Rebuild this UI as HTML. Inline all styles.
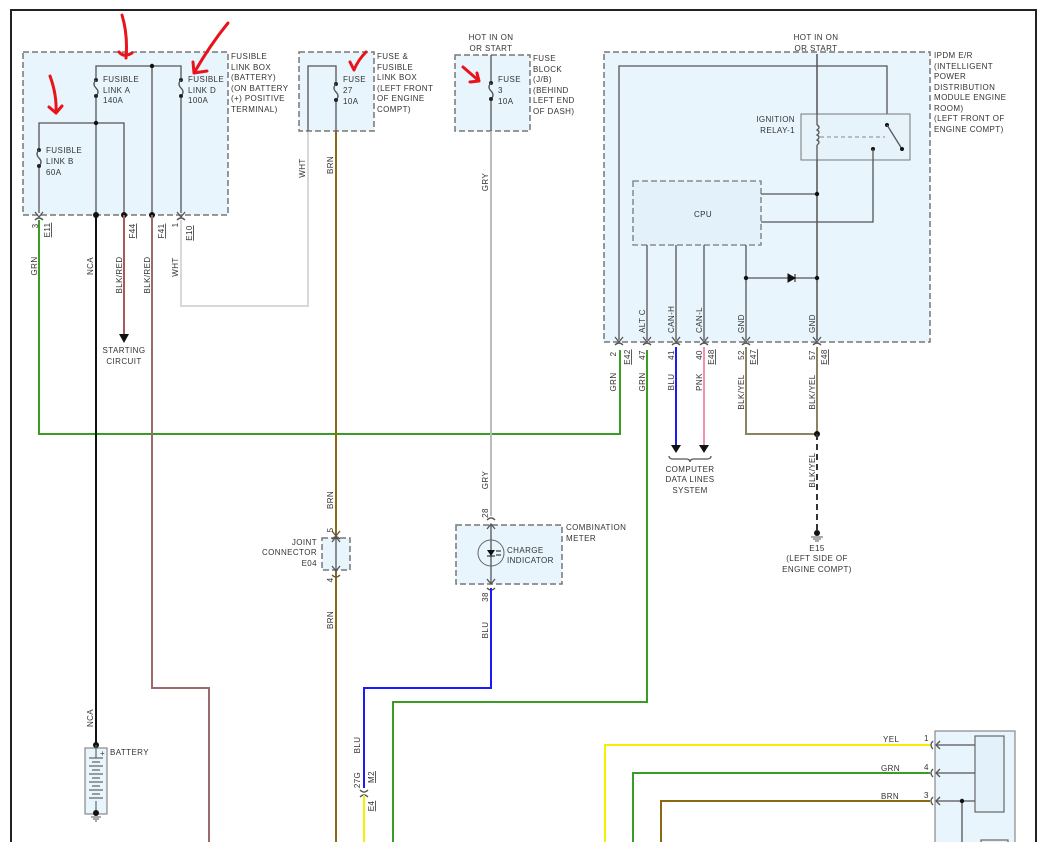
<!DOCTYPE html>
<html><head><meta charset="utf-8"><style>
html,body{margin:0;padding:0;background:#fff}
svg{display:block}
text{font-family:"Liberation Sans",sans-serif;font-size:8px;fill:#333;letter-spacing:0.4px}
.box{fill:#e8f5fc;stroke:#777;stroke-width:1.5;stroke-dasharray:6,3}
.ln{stroke:#555;stroke-width:1.3;fill:none}
.w{fill:none;stroke-width:2}
.u{text-decoration:underline}
</style></head><body>
<svg width="1049" height="842" viewBox="0 0 1049 842" xmlns="http://www.w3.org/2000/svg">
<defs>
<g id="pin"><path d="M-4,-5 L0,0 L4,-5" class="ln"/><path d="M-4,3 Q0,-1 4,3" class="ln"/></g>
<g id="fuse"><circle cx="0" cy="0" r="2" fill="#222"/><path d="M0,0 q-4,4 0,8 q4,4 0,8" class="ln"/><circle cx="0" cy="16" r="2" fill="#222"/></g>
</defs>
<path d="M11,842 V10 H1036 V842" fill="none" stroke="#222" stroke-width="2"/>

<rect class="box" x="23" y="52" width="205" height="163"/>
<path class="ln" d="M96,215 V66 H181 V213 M152,66 V215 M39,213 V123 H124 V215"/>
<rect x="93" y="78" width="6" height="20" fill="#e8f5fc"/><rect x="178" y="78" width="6" height="20" fill="#e8f5fc"/><rect x="36" y="148" width="6" height="20" fill="#e8f5fc"/>
<use href="#fuse" x="96" y="80"/><use href="#fuse" x="181" y="80"/><use href="#fuse" x="39" y="150"/>
<circle cx="152" cy="66" r="2.2" fill="#111"/><circle cx="96" cy="123" r="2.2" fill="#111"/>
<circle cx="96" cy="215" r="3" fill="#111"/><circle cx="124" cy="215" r="3" fill="#111"/><circle cx="152" cy="215" r="3" fill="#111"/>
<use href="#pin" x="39" y="217"/><use href="#pin" x="181" y="217"/>
<text x="103" y="82">FUSIBLE</text><text x="103" y="93">LINK A</text><text x="103" y="103">140A</text>
<text x="188" y="82">FUSIBLE</text><text x="188" y="93">LINK D</text><text x="188" y="103">100A</text>
<text x="46" y="153">FUSIBLE</text><text x="46" y="164">LINK B</text><text x="46" y="175">60A</text>
<text x="231" y="59">FUSIBLE</text><text x="231" y="70">LINK BOX</text><text x="231" y="80">(BATTERY)</text><text x="231" y="91">(ON BATTERY</text><text x="231" y="101">(+) POSITIVE</text><text x="231" y="112">TERMINAL)</text>

<path class="w" stroke="#3a9d23" d="M39,220 V434 H620 V350"/>
<path class="w" stroke="#111" d="M96,215 V745"/>
<path class="w" stroke="#a85a5a" d="M124,215 V335"/>
<path d="M119,334 L129,334 L124,343 Z" fill="#111"/>
<text x="124" y="353" text-anchor="middle">STARTING</text><text x="124" y="364" text-anchor="middle">CIRCUIT</text>
<path class="w" stroke="#9a6a6a" d="M152,215 V688 H209 V842"/>
<path class="w" stroke="#d8d8d8" d="M181,220 V306 H308 V131"/>
<g text-anchor="middle">
<text transform="translate(38,226) rotate(-90)">3</text>
<text class="u" transform="translate(50,230) rotate(-90)">E11</text>
<text transform="translate(37,266) rotate(-90)">GRN</text>
<text transform="translate(93,266) rotate(-90)">NCA</text>
<text class="u" transform="translate(135,231) rotate(-90)">F44</text>
<text transform="translate(122,275) rotate(-90)">BLK/RED</text>
<text class="u" transform="translate(164,231) rotate(-90)">F41</text>
<text transform="translate(150,275) rotate(-90)">BLK/RED</text>
<text transform="translate(178,225) rotate(-90)">1</text>
<text class="u" transform="translate(192,233) rotate(-90)">E10</text>
<text transform="translate(178,267) rotate(-90)">WHT</text>
<text transform="translate(305,168) rotate(-90)">WHT</text>
<text transform="translate(333,165) rotate(-90)">BRN</text>
</g>

<rect class="box" x="299" y="52" width="75" height="79"/>
<path class="ln" d="M308,131 V66 H336 V131"/>
<rect x="333" y="82" width="6" height="20" fill="#e8f5fc"/>
<use href="#fuse" x="336" y="84"/>
<text x="343" y="82">FUSE</text><text x="343" y="93">27</text><text x="343" y="104">10A</text>
<text x="377" y="59">FUSE &amp;</text><text x="377" y="70">FUSIBLE</text><text x="377" y="80">LINK BOX</text><text x="377" y="91">(LEFT FRONT</text><text x="377" y="101">OF ENGINE</text><text x="377" y="112">COMPT)</text>
<path class="w" stroke="#8b6914" d="M336,131 V842"/>
<rect class="box" x="322" y="538" width="28" height="32"/>
<path class="ln" d="M336,538 V570 M332,542 L336,537 L340,542 M332,566 L336,571 L340,566"/>
<use href="#pin" x="336" y="536"/><path class="ln" d="M332,575 Q336,579 340,575"/>
<g text-anchor="middle">
<text transform="translate(333,500) rotate(-90)">BRN</text>
<text transform="translate(333,530) rotate(-90)">5</text>
<text transform="translate(333,580) rotate(-90)">4</text>
<text transform="translate(333,620) rotate(-90)">BRN</text>
</g>
<text x="317" y="545" text-anchor="end">JOINT</text><text x="317" y="555" text-anchor="end">CONNECTOR</text><text x="317" y="566" text-anchor="end">E04</text>

<text x="491" y="40" text-anchor="middle">HOT IN ON</text><text x="491" y="51" text-anchor="middle">OR START</text>
<rect class="box" x="455" y="55" width="75" height="76"/>
<path class="ln" d="M491,55 V131"/>
<rect x="488" y="81" width="6" height="20" fill="#e8f5fc"/>
<use href="#fuse" x="491" y="83"/>
<text x="498" y="82">FUSE</text><text x="498" y="93">3</text><text x="498" y="104">10A</text>
<text x="533" y="61">FUSE</text><text x="533" y="72">BLOCK</text><text x="533" y="82">(J/B)</text><text x="533" y="93">(BEHIND</text><text x="533" y="103">LEFT END</text><text x="533" y="114">OF DASH)</text>
<path class="w" stroke="#bbb" d="M491,131 V516"/>
<g text-anchor="middle"><text transform="translate(488,182) rotate(-90)">GRY</text><text transform="translate(488,480) rotate(-90)">GRY</text>
<text transform="translate(488,513) rotate(-90)">28</text><text transform="translate(488,597) rotate(-90)">38</text>
<text transform="translate(488,630) rotate(-90)">BLU</text>
<text transform="translate(360,745) rotate(-90)">BLU</text>
<text transform="translate(360,780) rotate(-90)">27G</text>
<text class="u" transform="translate(374,777) rotate(-90)">M2</text>
<text class="u" transform="translate(374,806) rotate(-90)">E4</text></g>
<rect class="box" x="456" y="525" width="106" height="59"/>
<path class="ln" d="M491,525 V583 M487,529 L491,524 L495,529 M487,579 L491,584 L495,579"/>
<path class="ln" d="M487,520 Q491,516 495,520 M487,588 Q491,592 495,588"/>
<circle cx="491" cy="553" r="13" fill="none" stroke="#666" stroke-width="1"/>
<path d="M487,550 L495,550 L491,556 Z" fill="#111"/><path d="M487,556 H495 M496,551 h5 M496,555 h5" stroke="#111" stroke-width="1"/>
<text x="507" y="553">CHARGE</text><text x="507" y="563">INDICATOR</text>
<text x="566" y="530">COMBINATION</text><text x="566" y="541">METER</text>
<path class="w" stroke="#1a1aff" d="M491,588 V688 H364 V788"/>
<path class="ln" d="M360,790 Q364,794 368,790 M360,797 Q364,793 368,797"/>
<path class="w" stroke="#f5f000" d="M364,795 V842"/>
<path class="w" stroke="#3a9d23" d="M647,350 V702 H393 V842"/>

<text x="816" y="40" text-anchor="middle">HOT IN ON</text><text x="816" y="51" text-anchor="middle">OR START</text>
<rect class="box" x="604" y="52" width="326" height="290"/>
<path class="ln" d="M817,54 V340 M619,340 V66 H887 V125"/>
<rect x="801" y="114" width="109" height="46" fill="#e6f3fa" stroke="#777" stroke-width="1"/>
<path class="ln" d="M817,54 V125"/>
<path class="ln" d="M817,125 q4,2 0,5 q4,2 0,5 q4,2 0,5 q4,2 0,5 M817,145 V340"/>
<path d="M820,137 H885" stroke="#888" stroke-width="1" stroke-dasharray="4,3"/>
<circle cx="887" cy="125" r="2" fill="#111"/><path d="M887,125 L902,149" class="ln"/><circle cx="902" cy="149" r="2" fill="#111"/>
<circle cx="873" cy="149" r="2" fill="#111"/>
<path class="ln" d="M873,149 V222 H761 M761,194 H817"/>
<circle cx="817" cy="194" r="2.2" fill="#111"/>
<rect x="633" y="181" width="128" height="64" fill="#e3f2fa" stroke="#777" stroke-width="1.3" stroke-dasharray="6,3"/>
<text x="703" y="217" text-anchor="middle">CPU</text>
<path class="ln" d="M647,245 V340 M676,245 V340 M704,245 V340 M746,245 V340 M746,278 H817"/>
<circle cx="746" cy="278" r="2.2" fill="#111"/><circle cx="817" cy="278" r="2.2" fill="#111"/>
<path d="M788,274 L795,278 L788,282 Z M795,274 V282" fill="#111" stroke="#111" stroke-width="1"/>
<text x="795" y="122" text-anchor="end">IGNITION</text><text x="795" y="133" text-anchor="end">RELAY-1</text>
<text x="934" y="58">IPDM E/R</text><text x="934" y="69">(INTELLIGENT</text><text x="934" y="79">POWER</text><text x="934" y="90">DISTRIBUTION</text><text x="934" y="100">MODULE ENGINE</text><text x="934" y="111">ROOM)</text><text x="934" y="121">(LEFT FRONT OF</text><text x="934" y="132">ENGINE COMPT)</text>
<g text-anchor="start">
<text transform="translate(645,333) rotate(-90)">ALT C</text>
<text transform="translate(674,333) rotate(-90)">CAN-H</text>
<text transform="translate(702,333) rotate(-90)">CAN-L</text>
<text transform="translate(744,333) rotate(-90)">GND</text>
<text transform="translate(815,333) rotate(-90)">GND</text>
</g>
<use href="#pin" x="619" y="342"/><use href="#pin" x="647" y="342"/><use href="#pin" x="676" y="342"/><use href="#pin" x="704" y="342"/><use href="#pin" x="746" y="342"/><use href="#pin" x="817" y="342"/>
<g text-anchor="middle">
<text transform="translate(616,354) rotate(-90)">2</text><text class="u" transform="translate(630,357) rotate(-90)">E42</text>
<text transform="translate(645,355) rotate(-90)">47</text>
<text transform="translate(674,355) rotate(-90)">41</text>
<text transform="translate(702,355) rotate(-90)">40</text><text class="u" transform="translate(714,357) rotate(-90)">E48</text>
<text transform="translate(744,355) rotate(-90)">52</text><text class="u" transform="translate(756,357) rotate(-90)">E47</text>
<text transform="translate(815,355) rotate(-90)">57</text><text class="u" transform="translate(827,357) rotate(-90)">E48</text>
<text transform="translate(616,382) rotate(-90)">GRN</text>
<text transform="translate(645,382) rotate(-90)">GRN</text>
<text transform="translate(674,382) rotate(-90)">BLU</text>
<text transform="translate(702,382) rotate(-90)">PNK</text>
<text transform="translate(744,392) rotate(-90)">BLK/YEL</text>
<text transform="translate(815,392) rotate(-90)">BLK/YEL</text>
<text transform="translate(815,470) rotate(-90)">BLK/YEL</text>
</g>
<path class="w" stroke="#1a1aff" d="M676,347 V445"/><path d="M671,445 H681 L676,453 Z" fill="#111"/>
<path class="w" stroke="#f590a8" d="M704,347 V445"/><path d="M699,445 H709 L704,453 Z" fill="#111"/>
<path class="ln" d="M669,456 q0,3 4,3 H686 q4,0 4,3 q0,-3 4,-3 H707 q4,0 4,-3" stroke-width="1"/>
<text x="690" y="472" text-anchor="middle">COMPUTER</text><text x="690" y="482" text-anchor="middle">DATA LINES</text><text x="690" y="493" text-anchor="middle">SYSTEM</text>
<path class="w" stroke="#8a8460" d="M746,347 V434 H817 M817,347 V434"/>
<circle cx="817" cy="434" r="3" fill="#111"/>
<path d="M817,434 V533" stroke="#333" stroke-width="2" stroke-dasharray="6,4"/>
<circle cx="817" cy="533" r="3" fill="#111"/><path d="M811,537 H823 M813,539 H821 M815,541 H819" stroke="#555" stroke-width="1"/>
<text x="817" y="551" text-anchor="middle">E15</text><text x="817" y="561" text-anchor="middle">(LEFT SIDE OF</text><text x="817" y="572" text-anchor="middle">ENGINE COMPT)</text>

<rect x="935" y="731" width="80" height="115" fill="#e8f5fc" stroke="#888" stroke-width="1.2"/>
<rect x="975" y="736" width="29" height="76" fill="#e3f2fa" stroke="#666" stroke-width="1.2"/>
<rect x="981" y="840" width="27" height="10" fill="#e3f2fa" stroke="#666" stroke-width="1.2"/>
<path class="ln" d="M937,745 H975 M937,773 H975 M937,801 H975 M962,801 V842"/>
<circle cx="962" cy="801" r="2.2" fill="#111"/>
<path class="ln" d="M940,741 L936,745 L940,749 M940,769 L936,773 L940,777 M940,797 L936,801 L940,805"/>
<path class="ln" d="M933,741 Q929,745 933,749 M933,769 Q929,773 933,777 M933,797 Q929,801 933,805"/>
<path class="w" stroke="#f5f000" d="M605,842 V745 H930"/>
<path class="w" stroke="#3a9d23" d="M633,842 V773 H930"/>
<path class="w" stroke="#8b6914" d="M661,842 V801 H930"/>
<text x="883" y="742">YEL</text><text x="924" y="741">1</text>
<text x="881" y="771">GRN</text><text x="924" y="770">4</text>
<text x="881" y="799">BRN</text><text x="924" y="798">3</text>

<rect x="85" y="748" width="22" height="66" fill="#e8f5fc" stroke="#888" stroke-width="1.2"/>
<circle cx="96" cy="745" r="3" fill="#111"/>
<path d="M96,745 V758 M89,758 H103 M92,762 H100 M89,766 H103 M92,770 H100 M89,774 H103 M92,778 H100 M89,782 H103 M92,786 H100 M89,790 H103 M92,794 H100 M89,798 H103 M96,801 V813" stroke="#666" stroke-width="1.2"/>
<text x="100" y="756" font-size="7">+</text>
<circle cx="96" cy="813" r="3" fill="#111"/><path d="M91,817 H101 M93,819 H99 M95,821 H97" stroke="#555" stroke-width="1"/>
<text x="110" y="755">BATTERY</text>
<text text-anchor="middle" transform="translate(93,718) rotate(-90)">NCA</text>

<g fill="none" stroke="#e8141a" stroke-width="3" stroke-linecap="round" stroke-linejoin="round">
<path d="M122,15 Q128,35 126,58 M119,52 Q124,58 132,53"/>
<path d="M228,23 Q210,45 194,73 M193,62 L194,73 L207,71"/>
<path d="M50,76 Q57,95 56,113 M49,107 L56,113 L62,106"/>
<path d="M350,62 L354,70 Q358,60 366,52"/>
<path d="M463,67 L478,80 M470,82 L479,81 L477,73"/>
</g>
</svg>
</body></html>
